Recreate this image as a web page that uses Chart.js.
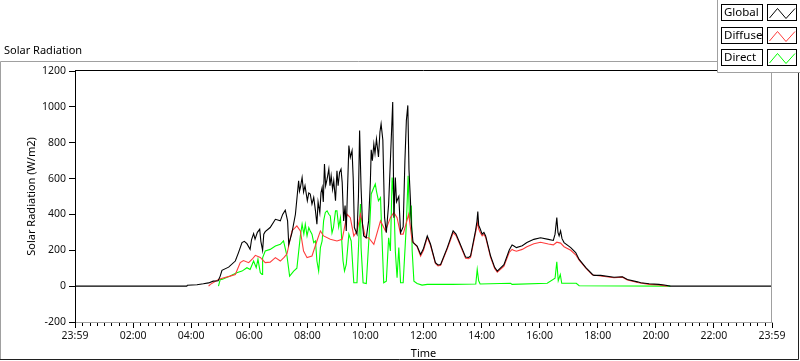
<!DOCTYPE html>
<html><head><meta charset="utf-8">
<script src="https://cdn.jsdelivr.net/npm/chart.js@4.4.0/dist/chart.umd.min.js"></script>
<style>html,body{margin:0;padding:0;background:#fff;overflow:hidden}</style>
</head><body>
<canvas id="c" width="800" height="361"></canvas>
<script>
// ---- data (hours since 23:59 of previous day, W/m2) ----
const timeLabels = ['23:59','02:00','04:00','06:00','08:00','10:00','12:00','14:00','16:00','18:00','20:00','22:00','23:59'];
const seriesNames = ['Global','Diffuse','Direct'];

const globalHours = [0,3.85,3.87,4.2,4.42,4.6,4.76,4.93,5.0,5.06,5.29,5.52,5.63,5.75,5.83,5.92,6.03,6.08,6.15,6.2,6.28,6.36,6.4,6.46,6.5,6.55,6.72,6.9,7.01,7.07,7.15,7.24,7.32,7.36,7.47,7.59,7.7,7.73,7.76,7.82,7.87,7.92,8.0,8.05,8.1,8.16,8.22,8.28,8.33,8.37,8.43,8.47,8.51,8.55,8.59,8.63,8.68,8.74,8.78,8.82,8.87,8.91,8.97,9.02,9.06,9.11,9.16,9.2,9.25,9.3,9.34,9.43,9.48,9.54,9.58,9.62,9.71,9.76,9.8,9.85,9.9,9.94,10.03,10.11,10.17,10.2,10.24,10.29,10.33,10.38,10.45,10.5,10.54,10.6,10.63,10.66,10.72,10.8,10.86,10.94,10.98,11.03,11.07,11.15,11.21,11.3,11.36,11.41,11.46,11.5,11.55,11.58,11.64,11.78,11.9,12.0,12.13,12.24,12.41,12.5,12.59,12.82,13.02,13.12,13.22,13.45,13.55,13.62,13.79,13.84,13.87,13.9,13.95,14.02,14.08,14.14,14.31,14.45,14.54,14.77,14.95,15.0,15.05,15.1,15.2,15.4,15.56,15.8,16.03,16.3,16.47,16.53,16.59,16.63,16.67,16.72,16.77,16.84,17.07,17.24,17.36,17.59,17.82,17.87,18.1,18.56,18.85,19.02,19.37,19.48,19.77,20.1,20.29,20.5,24];
const globalWm2 = [0,0,5,8,13,18,28,30,56,88,106,140,187,243,250,237,205,260,293,262,300,317,250,200,290,304,327,373,368,364,400,424,364,233,297,401,588,530,550,606,525,560,476,520,514,457,495,420,345,470,410,520,550,470,681,560,597,653,560,616,540,588,476,644,560,635,653,579,364,450,308,784,719,756,600,327,290,500,868,550,345,280,270,364,579,760,700,793,740,821,720,860,905,815,600,382,298,460,700,1027,382,606,470,500,298,330,700,924,1008,650,480,345,243,224,177,210,280,235,131,118,121,215,308,290,252,162,160,168,308,360,416,340,320,290,300,280,168,105,84,120,200,215,230,225,215,225,243,261,270,261,255,290,382,300,280,308,265,243,215,187,149,103,65,60,60,50,52,37,24,19,13,10,6,0,0];

const diffuseHours = [4.6,4.66,4.94,5.1,5.34,5.52,5.69,5.8,5.98,6.1,6.21,6.38,6.55,6.72,6.9,7.07,7.2,7.3,7.47,7.64,7.76,7.87,7.99,8.16,8.33,8.45,8.56,8.79,9.02,9.2,9.37,9.48,9.6,9.71,9.83,10.0,10.11,10.29,10.52,10.69,10.86,10.98,11.09,11.21,11.3,11.49,11.61,11.78,11.9,12.0,12.13,12.24,12.41,12.5,12.59,12.82,13.02,13.12,13.22,13.45,13.55,13.62,13.79,13.87,13.9,13.95,14.02,14.08,14.14,14.31,14.45,14.54,14.77,14.95,15.05,15.1,15.2,15.4,15.56,15.8,16.03,16.3,16.47,16.59,16.72,16.84,17.07,17.24,17.36,17.59,17.82,18.1,18.56,18.85,19.02,19.37,19.77,20.1,20.4];
const diffuseWm2 = [0,10,37,45,56,65,131,143,131,150,172,160,131,134,159,140,160,180,308,336,308,196,159,168,252,308,280,261,252,261,401,382,280,308,401,270,270,233,364,308,382,411,382,290,290,401,252,220,168,200,272,228,126,113,116,208,298,282,245,155,153,160,295,360,320,300,280,290,272,160,98,78,112,188,205,200,195,205,220,236,245,235,230,245,240,220,200,175,145,100,62,57,47,50,34,20,10,7,0];

const directHours = [4.94,5.0,5.06,5.34,5.57,5.75,5.92,6.03,6.15,6.24,6.3,6.38,6.44,6.46,6.55,6.72,6.9,7.07,7.18,7.3,7.39,7.53,7.64,7.76,7.82,7.88,7.93,7.99,8.05,8.1,8.16,8.22,8.28,8.33,8.39,8.45,8.51,8.56,8.62,8.68,8.74,8.79,8.85,8.9,8.97,9.02,9.08,9.14,9.2,9.23,9.28,9.34,9.43,9.51,9.6,9.71,9.8,9.83,9.85,9.92,10.03,10.15,10.2,10.29,10.34,10.38,10.45,10.52,10.57,10.63,10.72,10.8,10.86,10.92,10.98,11.03,11.09,11.15,11.21,11.3,11.41,11.47,11.52,11.58,11.61,11.67,11.78,11.95,12.13,13.0,13.8,13.85,13.9,13.95,15.0,15.05,16.26,16.53,16.59,16.64,16.71,16.76,17.1,17.26,17.36,20.5];
const directWm2 = [0,37,37,56,75,84,103,93,140,103,150,75,65,158,196,205,224,233,252,168,56,84,100,280,345,290,345,280,327,308,290,243,252,140,84,215,252,364,411,420,401,392,297,327,420,420,330,382,215,140,84,121,290,252,19,19,364,458,215,19,15,345,514,550,570,530,476,494,270,19,28,270,196,606,476,196,47,215,19,19,345,616,364,450,196,28,15,6,10,10,12,93,30,12,16,10,16,44,136,30,65,16,16,16,2,0];

const toXY = (xs, ys) => xs.map((x, i) => ({x, y: ys[i]}));

const FONT = '"Noto Sans", "Open Sans", sans-serif';

const framePlugin = {
  id: 'lvFrame',
  afterDraw(chart) {
    const {ctx, chartArea: a, scales} = chart;
    ctx.save();
    ctx.lineWidth = 1;
    // outer frame
    ctx.strokeStyle = '#a0a0a0';
    ctx.beginPath();
    ctx.moveTo(717, 61.5); ctx.lineTo(0.5, 61.5); ctx.lineTo(0.5, 360);
    ctx.stroke();
    ctx.strokeStyle = '#202020';
    ctx.beginPath();
    ctx.moveTo(0, 359.5); ctx.lineTo(798.5, 359.5); ctx.lineTo(798.5, 72);
    ctx.stroke();
    // plot area top (black) and right (gray)
    ctx.strokeStyle = '#000';
    ctx.beginPath(); ctx.moveTo(a.left, a.top - 0.5); ctx.lineTo(a.right, a.top - 0.5); ctx.stroke();
    ctx.strokeStyle = '#a0a0a0';
    ctx.beginPath(); ctx.moveTo(a.right - 0.5, a.top); ctx.lineTo(a.right - 0.5, a.bottom); ctx.stroke();
    // minor ticks on time axis
    const xs = scales.x;
    ctx.strokeStyle = '#000';
    ctx.beginPath();
    for (let t = 0.25; t < 24; t += 0.25) {
      if (Math.abs(t / 2 - Math.round(t / 2)) < 1e-6) continue;
      const px = Math.round(xs.getPixelForValue(t)) + 0.5;
      ctx.moveTo(px, a.bottom + 1); ctx.lineTo(px, a.bottom + 4);
    }
    ctx.stroke();
    // legend panel
    ctx.fillStyle = '#fff';
    ctx.fillRect(717, 0, 83, 72);
    ctx.strokeStyle = '#a0a0a0';
    ctx.beginPath(); ctx.moveTo(717.5, 0); ctx.lineTo(717.5, 72.5); ctx.lineTo(800, 72.5); ctx.stroke();
    chart.data.datasets.forEach((ds, i) => {
      const y0 = Math.round(4 + i * 22.5);
      ctx.strokeStyle = '#000';
      ctx.strokeRect(721.5, y0 + 0.5, 41, 16);
      ctx.strokeRect(767.5, y0 + 0.5, 29, 16);
      ctx.fillStyle = '#000';
      ctx.font = '11.5px ' + FONT;
      ctx.textBaseline = 'middle';
      ctx.textAlign = 'left';
      ctx.fillText(ds.label, 724, y0 + 9);
      ctx.strokeStyle = ds.borderColor;
      ctx.beginPath();
      ctx.moveTo(769.5, y0 + 14); ctx.lineTo(777.5, y0 + 4.5);
      ctx.lineTo(786, y0 + 14.5); ctx.lineTo(795, y0 + 4.5);
      ctx.stroke();
    });
    ctx.restore();
  }
};

const lineDs = (label, xs, ys, color) => ({
  label, data: toXY(xs, ys), borderColor: color, backgroundColor: color,
  borderWidth: 1.1, pointRadius: 0, tension: 0, fill: false
});

new Chart(document.getElementById('c'), {
  type: 'line',
  data: {
    datasets: [
      lineDs(seriesNames[0], globalHours, globalWm2, '#000000'),
      lineDs(seriesNames[1], diffuseHours, diffuseWm2, '#ff3c3c'),
      lineDs(seriesNames[2], directHours, directWm2, '#00ff00')
    ]
  },
  options: {
    responsive: false, animation: false, devicePixelRatio: 1,
    layout: {padding: {left: 4, right: 28, top: 0, bottom: 0}},
    plugins: {
      legend: {display: false},
      tooltip: {enabled: false},
      title: {display: true, text: 'Solar Radiation', align: 'start', color: '#000',
        font: {family: FONT, size: 11, weight: 'normal'}, padding: {top: 44.5, bottom: 13.3}}
    },
    scales: {
      x: {
        type: 'linear', min: 0, max: 24,
        afterFit: s => { s.height = 39; },
        ticks: {stepSize: 2, autoSkip: false, maxRotation: 0, color: '#111', padding: 2,
          font: {family: FONT, size: 10.5},
          callback: v => timeLabels[Math.round(v / 2)]},
        grid: {display: true, drawOnChartArea: false, drawTicks: true, tickLength: 6, tickColor: '#000'},
        border: {display: true, color: '#a0a0a0'},
        title: {display: true, text: 'Time', color: '#000', font: {family: FONT, size: 11}, padding: {top: 0, bottom: 1}}
      },
      y: {
        min: -200, max: 1200,
        afterFit: s => { s.width = 71; },
        ticks: {stepSize: 200, color: '#111', padding: 3, font: {family: FONT, size: 10.5},
          callback: v => String(v)},
        grid: {display: true, drawOnChartArea: false, drawTicks: true, tickLength: 6, tickColor: '#000'},
        border: {display: true, color: '#000'},
        title: {display: true, text: 'Solar Radiation (W/m2)', color: '#000', font: {family: FONT, size: 11}, padding: {top: 21, bottom: 0}}
      }
    }
  },
  plugins: [framePlugin]
});
</script>
</body></html>
